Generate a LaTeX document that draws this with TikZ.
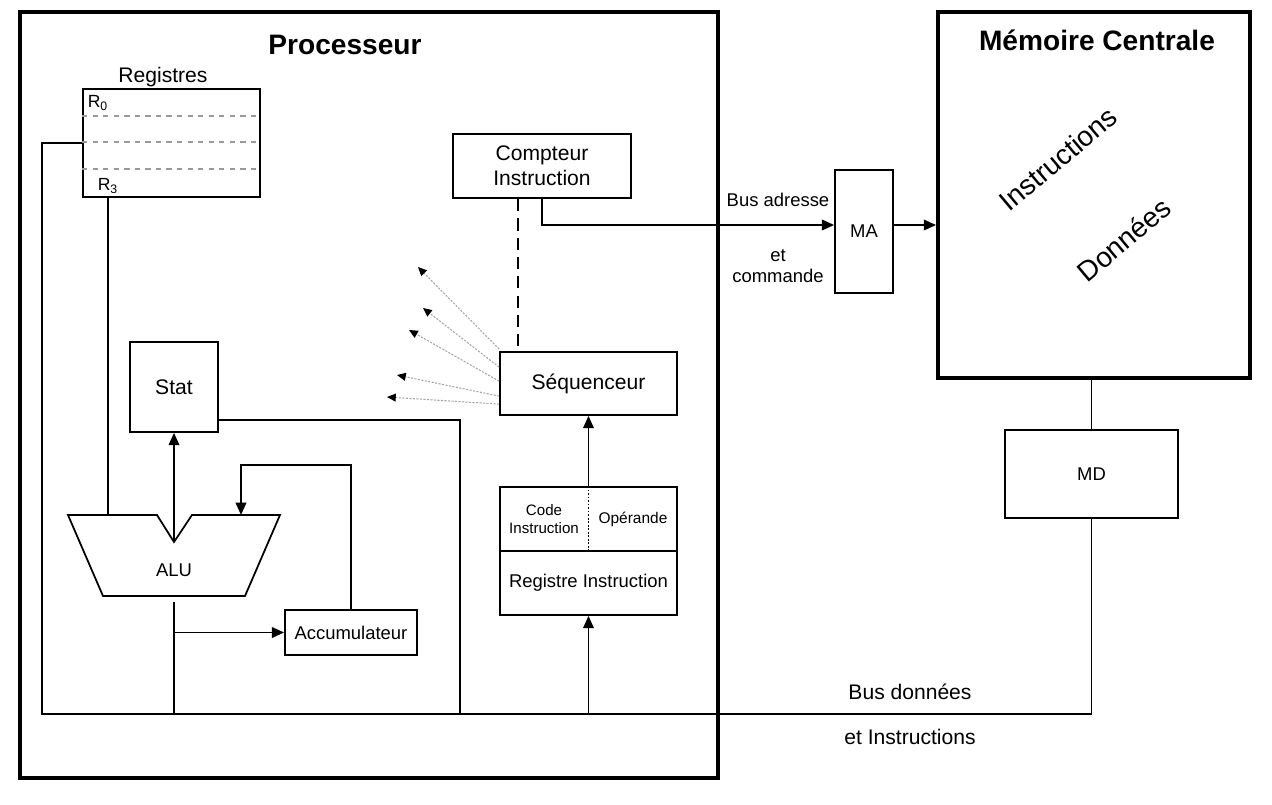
\documentclass[tikz,border=0pt]{standalone}
\usepackage{fontspec}
\setmainfont{Liberation Sans}
\usetikzlibrary{positioning,arrows.meta,calc}

\begin{document}
\begin{tikzpicture}[
  x=0.02cm, y=-0.02cm,
  unit/.style={rectangle, draw=black, line width=1pt, inner sep=1pt, align=center, font={\fontsize{12}{14}\selectfont}},
  frame/.style={rectangle, draw=black, line width=2.2pt, inner sep=0pt},
  ttl/.style={font={\fontsize{16}{18}\selectfont\bfseries}},
  lbl/.style={inner sep=1pt, align=center, font={\fontsize{12}{14}\selectfont}},
  wire/.style={line width=1pt},
  arr/.style={line width=1.1pt, -{Triangle[length=7pt,width=6pt]}},
  ctl/.style={draw=gray!70, line width=0.6pt, dash pattern=on 1.2pt off 0.8pt, -{Triangle[length=5pt,width=4.5pt,color=black]}}
]
\useasboundingbox (0,0) rectangle (1272,805);
\node[frame, minimum width=13.96cm, minimum height=15.32cm] (proc) at (369,395) {};
\node[frame, minimum width=6.24cm, minimum height=7.32cm] (mem) at (1094,195) {};
\node[ttl] (proctitle) at (345,45) {Processeur};
\node[ttl] (memtitle) at (1097,40) {Mémoire Centrale};
\node[lbl, rotate=40, inner sep=0pt, font={\fontsize{16}{18}\selectfont}] (memins) at (1058,159) {Instructions};
\node[lbl, rotate=40, inner sep=0pt, font={\fontsize{16}{18}\selectfont}] (memdat) at (1124,240) {Données};

\node[unit, minimum width=3.54cm, minimum height=2.16cm] (reg) at (171.5,143) {};
\node[lbl] (regtitle) at (163,77) {Registres};
\foreach \dy in {28,54,81}
  \draw[wire, gray!80, dashed] ($(reg.north west)+(0,\dy)$) -- ($(reg.north east)+(0,\dy)$);
\node[lbl, font={\fontsize{10}{12}\selectfont}] (r0) at (98,103) {R\textsubscript{0}};
\node[lbl, font={\fontsize{10}{12}\selectfont}] (r3) at (108,186) {R\textsubscript{3}};

\node[unit, minimum width=1.76cm, minimum height=1.8cm] (stat) at (174,387) {Stat};
\node[unit, minimum width=2.64cm, minimum height=0.9cm, font={\fontsize{10.5}{12}\selectfont}] (acc) at (351,632.5) {Accumulateur};
\node[unit, minimum width=3.56cm, minimum height=1.28cm] (ci) at (542,166) {Compteur\\Instruction};
\node[unit, minimum width=3.54cm, minimum height=1.26cm] (seq) at (588.5,383.5) {Séquenceur};
\node[unit, minimum width=3.54cm, minimum height=1.28cm] (ritop) at (588.5,519) {};
\node[unit, minimum width=3.54cm, minimum height=1.28cm, font={\fontsize{10.5}{12}\selectfont}] (ri) at (588.5,583) {Registre Instruction};
\node[lbl, font={\fontsize{8.6}{10}\selectfont}] (ricode) at (544,519) {Code\\Instruction};
\node[lbl, font={\fontsize{8.8}{10}\selectfont}] (riop) at (633,519) {Opérande};
\draw[line width=0.4pt, dash pattern=on 1pt off 1pt] (ritop.north) -- (ritop.south);
\node[unit, minimum width=1.16cm, minimum height=2.46cm, font={\fontsize{10.5}{12}\selectfont}] (ma) at (864,231.5) {MA};
\node[unit, minimum width=3.46cm, minimum height=1.76cm, font={\fontsize{10.5}{12}\selectfont}] (md) at (1091.5,474) {MD};

\draw[wire] (68,515) -- (157,515) -- (174,542) -- (192,515) -- (280,515) -- (245,596) -- (103,596) -- cycle;
\node[lbl, font={\fontsize{10.5}{12}\selectfont}] (alu) at (174,570) {ALU};
\coordinate (alunotch) at (174,542);
\coordinate (aluin) at (108,515);
\coordinate (aluacc) at (241,515);
\coordinate (aluout) at (174,602);
\coordinate (busL) at (42,714);
\coordinate (statj) at (460,420);

\node[lbl, font={\fontsize{10.5}{12}\selectfont}] (busadr) at (778,200) {Bus adresse};
\node[lbl, font={\fontsize{10.5}{12}\selectfont}] (buscmd) at (778,266) {et\\commande};
\node[lbl] (busdon) at (910,692) {Bus données};
\node[lbl] (busins) at (910,737) {et Instructions};

\draw[wire] (reg.west) -| (busL) -- (busL -| md.south) -- (md.south);
\draw[wire] (aluin |- reg.south) -- (aluin);
\draw[arr] (alunotch) -- (stat.south);
\draw[wire] (statj -| stat.east) -- (statj) -- (statj |- busL);
\draw[arr] (acc.north) |- ($(aluacc)+(0,-50)$) -- (aluacc);
\draw[line width=0.6pt] (aluout) -- (aluout |- busL);
\draw[arr] (aluout |- acc.west) -- (acc.west);
\draw[line width=1.2pt, dash pattern=on 7pt off 4pt] ([xshift=-0.48cm]ci.south) -- ([xshift=-0.48cm]ci.south |- seq.north);
\draw[arr] (ci.south) |- ([yshift=0.13cm]ma.west);
\draw[arr] ([yshift=0.13cm]ma.east) -- ([yshift=0.13cm]ma.east -| mem.west);
\draw[wire] (md.north |- mem.south) -- (md.north);
\draw[arr] (ritop.north) -- (seq.south);
\draw[arr] (ri.south |- busL) -- (ri.south);
\foreach \i/\dy/\tx/\ty in {1/-2/418/267, 2/16/423/308, 3/30/409/330, 4/45/397/375, 5/53/387/397} {
  \coordinate (ctl\i) at (\tx,\ty);
  \draw[ctl] ($(seq.north west)+(0,\dy)$) -- (ctl\i);
}
\end{tikzpicture}
\end{document}
